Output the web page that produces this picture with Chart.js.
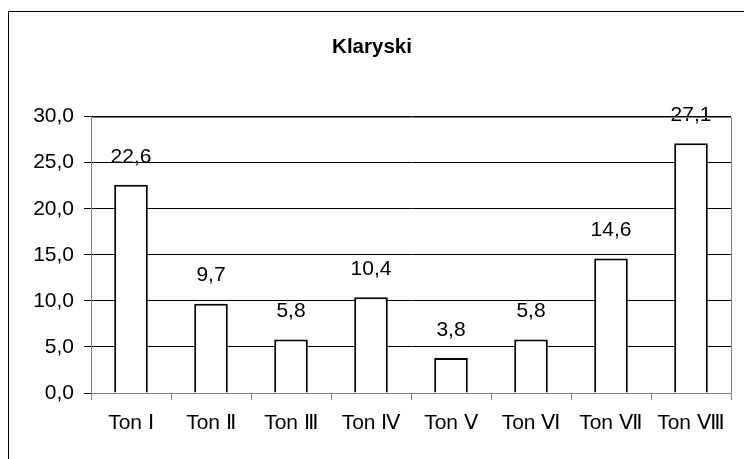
<!DOCTYPE html>
<html>
<head>
<meta charset="utf-8">
<script src="https://cdn.jsdelivr.net/npm/chart.js@4.4.0/dist/chart.umd.min.js"></script>
<style>
  html, body { margin: 0; padding: 0; background: #fff; }
</style>
</head>
<body>
<canvas id="chart" width="744" height="459"></canvas>
<script>
// Klaryski — share per tone
const tones = ['Ton Ⅰ', 'Ton Ⅱ', 'Ton Ⅲ', 'Ton Ⅳ', 'Ton Ⅴ', 'Ton Ⅵ', 'Ton Ⅶ', 'Ton Ⅷ'];
const values = [22.6, 9.7, 5.8, 10.4, 3.8, 5.8, 14.6, 27.1];
const yTicks = [0, 5, 10, 15, 20, 25, 30];

const FONT = 'Arial, "Liberation Sans", sans-serif';
const fmt = v => v.toFixed(1).replace('.', ',');

// outer frame + value labels over the bars
const excelLook = {
  id: 'excelLook',
  beforeDraw(chart) {
    const ctx = chart.ctx;
    ctx.save();
    ctx.fillStyle = '#fff';
    ctx.fillRect(0, 0, chart.width, chart.height);
    ctx.strokeStyle = '#000';
    ctx.lineWidth = 1;
    ctx.strokeRect(8.5, 11.5, 900, 600);
    ctx.restore();
  },
  afterDatasetsDraw(chart) {
    const ctx = chart.ctx;
    const meta = chart.getDatasetMeta(0);
    ctx.save();
    ctx.font = '21px ' + FONT;
    ctx.fillStyle = '#000';
    ctx.textAlign = 'center';
    ctx.textBaseline = 'middle';
    meta.data.forEach((bar, i) => {
      ctx.fillText(fmt(values[i]), bar.x, bar.y - 28);
    });
    ctx.restore();
  },
  afterDraw(chart) {
    // gray plot-area frame
    const a = chart.chartArea;
    const ctx = chart.ctx;
    ctx.save();
    ctx.strokeStyle = '#808080';
    ctx.lineWidth = 1;
    ctx.beginPath();
    ctx.moveTo(Math.round(a.left) + 0.5, Math.round(a.top) + 0.5);
    ctx.lineTo(Math.round(a.right) + 0.5, Math.round(a.top) + 0.5);
    ctx.lineTo(Math.round(a.right) + 0.5, Math.round(a.bottom) + 0.5);
    ctx.stroke();
    ctx.restore();
  }
};

new Chart(document.getElementById('chart'), {
  type: 'bar',
  data: {
    labels: tones,
    datasets: [{
      data: values,
      backgroundColor: '#fff',
      borderColor: '#000',
      borderWidth: 2,
      borderSkipped: 'bottom',
      categoryPercentage: 1,
      barPercentage: 0.42,
    }],
  },
  options: {
    responsive: false,
    animation: false,
    devicePixelRatio: 1,
    layout: { padding: 0 },
    plugins: {
      legend: { display: false },
      tooltip: { enabled: false },
      title: {
        display: true,
        text: 'Klaryski',
        color: '#000',
        font: { family: FONT, size: 20.5, weight: 'bold' },
        padding: { top: 35, bottom: 57 },
      },
    },
    scales: {
      x: {
        grid: { display: true, drawOnChartArea: false, offset: true, color: '#808080', tickLength: 7 },
        border: { color: '#808080' },
        ticks: { color: '#000', font: { family: FONT, size: 21 }, padding: 11, maxRotation: 0, autoSkip: false },
        afterFit(scale) { scale.height = 66; },
      },
      y: {
        min: 0,
        max: 30,
        afterBuildTicks(scale) { scale.ticks = yTicks.map(v => ({ value: v })); },
        grid: { color: '#000', tickLength: 7, tickColor: '#000' },
        border: { color: '#808080' },
        ticks: { color: '#000', font: { family: FONT, size: 21 }, padding: 10, callback: v => fmt(v) },
        afterFit(scale) { scale.width = 91; },
      },
      // empty right gutter so the plot ends at the same place as in the original
      gutter: {
        position: 'right',
        grid: { display: false },
        border: { display: false },
        ticks: { display: false },
        afterFit(scale) { scale.width = 13; },
      },
    },
  },
  plugins: [excelLook],
});
</script>
</body>
</html>
